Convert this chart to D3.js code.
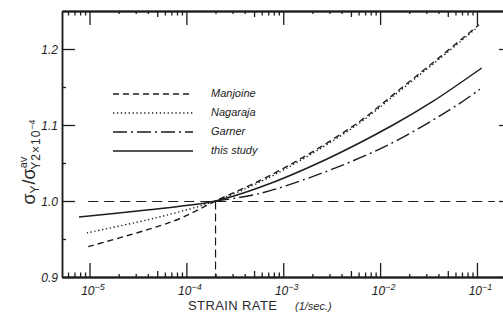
<!DOCTYPE html>
<html><head><meta charset="utf-8">
<script src="https://cdn.jsdelivr.net/npm/d3@7"></script>
<style>body{margin:0;background:#fff}svg{display:block}</style>
</head><body><svg id="c" width="503" height="321"></svg>
<script>
// ---- data ----
const manjoineRate = [9.7e-6, 3.9e-5, 8.6e-5, 2e-4, 6.2e-4, 1.9e-3, 6.2e-3, 1.6e-2, 4.1e-2, 0.105];
const manjoineVal  = [0.940, 0.962, 0.977, 1.000, 1.029, 1.063, 1.105, 1.147, 1.189, 1.232];
const nagarajaRate = [9.4e-6, 3.9e-5, 8.6e-5, 2e-4, 6.2e-4, 1.9e-3, 6.2e-3, 1.6e-2, 4.1e-2, 0.1];
const nagarajaVal  = [0.958, 0.975, 0.986, 1.000, 1.027, 1.061, 1.103, 1.145, 1.187, 1.228];
const garnerRate   = [2e-4, 5.75e-4, 2.8e-3, 1.36e-2, 6.2e-2, 0.107];
const garnerVal    = [1.000, 1.010, 1.039, 1.077, 1.126, 1.147];
const studyRate    = [7.8e-6, 3.9e-5, 8.6e-5, 2e-4, 5.75e-4, 2.8e-3, 1.36e-2, 3.4e-2, 0.112];
const studyVal     = [0.979, 0.988, 0.993, 1.000, 1.018, 1.055, 1.100, 1.130, 1.175];
const seriesNames  = ["Manjoine", "Nagaraja", "Garner", "this study"];
const refLineRate  = [9.7e-6, 0.153];
const refLineVal   = [1.0, 1.0];
const refStrainRate = 2e-4;
const yTickValues  = [0.9, 1.0, 1.1, 1.2];
const yTickLabels  = ["0.9", "1.0", "1.1", "1.2"];
const yMinorValues = [0.95, 1.05, 1.15];
const xTickExps    = [-5, -4, -3, -2, -1];
const xTickLabels  = ["\u22125", "\u22124", "\u22123", "\u22122", "\u22121"];

// ---- scales ----
const svg = d3.select("#c");
const x = d3.scaleLog().domain([5.2e-6, 0.23]).range([62, 512]);
const y = d3.scaleLinear().domain([0.9, 1.25]).range([277, 11]);
const ink = "#1c1c1c";

const majorX = xTickExps.map(e => Math.pow(10, e));
const minorX = [], minor5 = [], minorSmall = [];
for (let e = -6; e <= -1; e++) for (let m = 2; m <= 9; m++) {
  const v = m * Math.pow(10, e);
  if (v < x.domain()[0] || v > x.domain()[1]) continue;
  if (m === 5) minor5.push(v); else if (m >= 6) minorX.push(v); else minorSmall.push(v);
}

function styleAxis(g) {
  g.selectAll("path, line").attr("stroke", ink).attr("stroke-width", 1.3);
  g.select(".domain").attr("stroke-width", 1.5);
}
function addAxis(axis, tx, ty) {
  const g = svg.append("g").attr("transform", `translate(${tx},${ty})`).call(axis);
  styleAxis(g);
  return g;
}

// bottom axis
const gb = addAxis(d3.axisBottom(x).tickValues(majorX).tickSize(-14).tickSizeOuter(0).tickFormat(""), 0, 277);
addAxis(d3.axisBottom(x).tickValues(minor5).tickSize(-6).tickSizeOuter(0).tickFormat(""), 0, 277);
addAxis(d3.axisBottom(x).tickValues(minorX).tickSize(-4.5).tickSizeOuter(0).tickFormat(""), 0, 277);
addAxis(d3.axisBottom(x).tickValues(minorSmall).tickSize(-3).tickSizeOuter(0).tickFormat(""), 0, 277);
// top axis
addAxis(d3.axisTop(x).tickValues(majorX).tickSize(-14).tickSizeOuter(0).tickFormat(""), 0, 11);
addAxis(d3.axisTop(x).tickValues(minor5).tickSize(-6).tickSizeOuter(0).tickFormat(""), 0, 11);
addAxis(d3.axisTop(x).tickValues(minorX).tickSize(-4.5).tickSizeOuter(0).tickFormat(""), 0, 11);
addAxis(d3.axisTop(x).tickValues(minorSmall).tickSize(-3).tickSizeOuter(0).tickFormat(""), 0, 11);
// left axis
const gl = addAxis(d3.axisLeft(y).tickValues(yTickValues).tickSize(-13).tickSizeOuter(0).tickFormat(""), 62, 0);
addAxis(d3.axisLeft(y).tickValues(yMinorValues).tickSize(-4).tickSizeOuter(0).tickFormat(""), 62, 0);
// right axis (frame edge just outside the picture)
addAxis(d3.axisRight(y).tickValues(yTickValues).tickSize(-13).tickSizeOuter(0).tickFormat(""), 512, 0);

// x tick labels
gb.selectAll(".tick").each(function(d, i) {
  const t = d3.select(this).append("text")
    .attr("x", 3).attr("y", 18)
    .attr("text-anchor", "middle")
    .attr("font-family", "Liberation Sans, Arial, sans-serif")
    .attr("font-style", "italic").attr("font-size", 12).attr("fill", ink);
  t.append("tspan").text("10");
  t.append("tspan").attr("dy", -5).attr("font-size", 9).text(xTickLabels[i]);
});
// y tick labels
gl.selectAll(".tick").each(function(d, i) {
  d3.select(this).append("text")
    .attr("x", -4).attr("dy", "0.35em")
    .attr("text-anchor", "end")
    .attr("font-family", "Liberation Sans, Arial, sans-serif")
    .attr("font-style", "italic").attr("font-size", 12).attr("fill", ink)
    .text(yTickLabels[i]);
});

// reference lines
const line = d3.line().x(d => x(d[0])).y(d => y(d[1]) + 0.5);
svg.append("path")
  .datum(d3.zip(refLineRate, refLineVal))
  .attr("d", line).attr("fill", "none").attr("stroke", ink)
  .attr("stroke-width", 1.2).attr("stroke-dasharray", "10,6");
svg.append("path")
  .datum([[refStrainRate, 1.0], [refStrainRate, y.domain()[0]]])
  .attr("d", line).attr("fill", "none").attr("stroke", ink)
  .attr("stroke-width", 1.2).attr("stroke-dasharray", "8,4");

// curves
const curve = d3.line().x(d => x(d[0])).y(d => y(d[1])).curve(d3.curveCatmullRom.alpha(0.5));
const series = [
  {name: seriesNames[0], data: d3.zip(manjoineRate, manjoineVal), dash: "6,4", w: 1.4},
  {name: seriesNames[1], data: d3.zip(nagarajaRate, nagarajaVal), dash: "1.3,2.6", w: 1.4},
  {name: seriesNames[2], data: d3.zip(garnerRate, garnerVal), dash: "14,4,2,4", w: 1.4},
  {name: seriesNames[3], data: d3.zip(studyRate, studyVal), dash: null, w: 1.5}
];
svg.append("g").selectAll("path").data(series).join("path")
  .attr("d", s => curve(s.data))
  .attr("fill", "none").attr("stroke", ink)
  .attr("stroke-width", s => s.w)
  .attr("stroke-dasharray", s => s.dash);

// legend
const lg = svg.append("g");
series.forEach((s, i) => {
  const ly = 94 + i * 19;
  lg.append("line").attr("x1", 113).attr("x2", 193).attr("y1", ly).attr("y2", ly)
    .attr("stroke", ink).attr("stroke-width", s.w).attr("stroke-dasharray", s.dash);
  lg.append("text").attr("x", 211).attr("y", ly + 3)
    .attr("font-family", "Liberation Sans, Arial, sans-serif")
    .attr("font-style", "italic").attr("font-size", 11).attr("fill", ink)
    .text(s.name);
});

// axis titles
svg.append("text").attr("x", 188).attr("y", 310)
  .attr("font-family", "Liberation Sans, Arial, sans-serif")
  .attr("font-size", 13).attr("letter-spacing", 0.4).attr("fill", "#2a2a2a").text("STRAIN RATE");
svg.append("text").attr("x", 295).attr("y", 310)
  .attr("font-family", "Liberation Sans, Arial, sans-serif")
  .attr("font-style", "italic").attr("font-size", 11).attr("fill", "#2a2a2a").text("(1/sec.)");

const yt = svg.append("text")
  .attr("transform", "translate(35,162) rotate(-90)")
  .attr("text-anchor", "middle")
  .attr("font-family", "Liberation Sans, Arial, sans-serif")
  .attr("font-size", 18).attr("fill", "#2a2a2a");
yt.append("tspan").text("\u03c3");
yt.append("tspan").attr("dy", 4).attr("font-size", 12).text("Y");
yt.append("tspan").attr("dy", -4).attr("dx", 1).text("/\u03c3");
yt.append("tspan").attr("dy", -8).attr("font-size", 11).text("av");
yt.append("tspan").attr("dx", -13).attr("dy", 13).attr("font-size", 12).attr("letter-spacing", 1).text("Y2\u00d710");
yt.append("tspan").attr("dy", -5).attr("font-size", 9).text("\u22124");
</script>
</body></html>
